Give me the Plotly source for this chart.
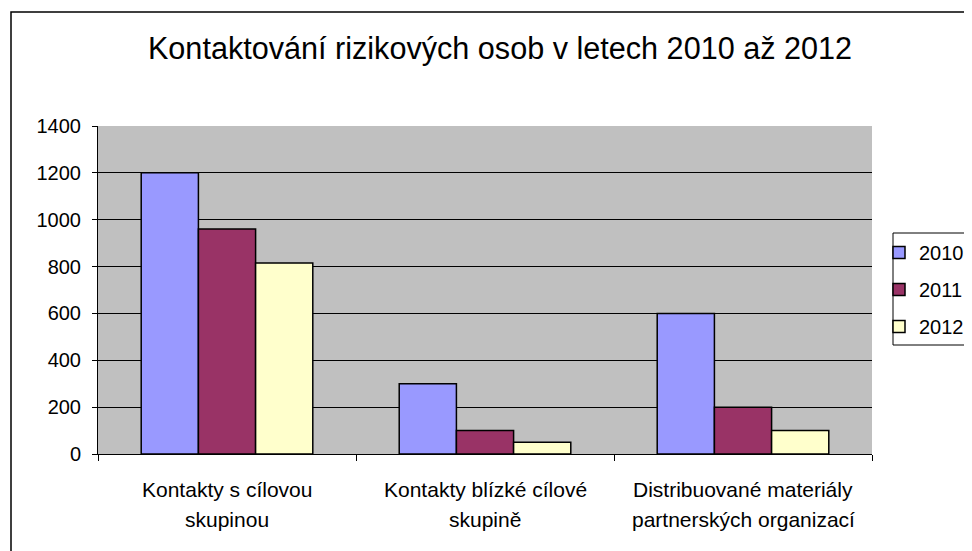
import plotly.graph_objects as go

categories = ["Kontakty s cílovou skupinou",
              "Kontakty blízké cílové skupině",
              "Distribuované materiály partnerských organizací"]
label_line1 = ["Kontakty s cílovou", "Kontakty blízké cílové", "Distribuované materiály"]
label_line2 = ["skupinou", "skupině", "partnerských organizací"]
years = ["2010", "2011", "2012"]
values_2010 = [1200, 300, 600]
values_2011 = [960, 100, 200]
values_2012 = [815, 50, 100]
series = [values_2010, values_2011, values_2012]
colors = ["#9999FF", "#993366", "#FFFFCC"]
y_ticks = [0, 200, 400, 600, 800, 1000, 1200, 1400]

FONT = "Liberation Sans, Arial, sans-serif"

fig = go.Figure()
for i, (yr, vals) in enumerate(zip(years, series)):
    fig.add_trace(go.Bar(
        name=yr, x=categories, y=vals, legendgroup=yr,
        marker=dict(color=colors[i], line=dict(color="black", width=1.5)),
    ))

# page has an 8px body margin, so the figure is 8px smaller
W, H = 964, 543
L, R, T, B = 90, 100, 118, 97
PW, PH = W - L - R, H - T - B

fig.update_layout(
    width=W, height=H,
    margin=dict(l=L, r=R, t=T, b=B, autoexpand=False),
    paper_bgcolor="white",
    plot_bgcolor="#C0C0C0",
    barmode="group",
    bargap=0.335,
    bargroupgap=0,
    font=dict(family=FONT, size=20, color="black"),
    title=dict(text="Kontaktování rizikových osob v letech 2010 až 2012",
               x=492 / W, xanchor="center", y=1 - 40 / H, yanchor="middle",
               font=dict(family=FONT, size=30.6, color="black")),
    showlegend=True,
    legend=dict(x=(871 - L) / PW, xanchor="left", y=(H - B - 225) / PH, yanchor="top",
                borderwidth=0, bgcolor="rgba(0,0,0,0)",
                font=dict(family=FONT, size=20),
                tracegroupgap=8, itemwidth=30),
)
fig.update_xaxes(
    type="category", tickson="boundaries", ticks="outside", ticklen=6,
    tickcolor="black", showline=True, linecolor="black", linewidth=1,
    showticklabels=False, showgrid=False, mirror=False,
)
fig.update_yaxes(
    range=[0, 1400], tickvals=y_ticks, ticks="outside", ticklen=5,
    tickcolor="black", showline=True, linecolor="black", linewidth=1,
    showgrid=True, gridcolor="black", gridwidth=1, zeroline=False,
    tickfont=dict(family=FONT, size=20), ticklabelstandoff=7,
)
# category labels (two lines each)
for c, l1, l2 in zip(categories, label_line1, label_line2):
    fig.add_annotation(x=c, xref="x", y=0, yref="paper", text=l1, showarrow=False,
                       yanchor="middle", yshift=-35, font=dict(family=FONT, size=21))
    fig.add_annotation(x=c, xref="x", y=0, yref="paper", text=l2, showarrow=False,
                       yanchor="middle", yshift=-65, font=dict(family=FONT, size=21))
# outer chart border
fig.add_shape(type="rect", xref="paper", yref="paper",
              x0=(3 - L) / PW, x1=(W + 10 - L) / PW,
              y0=-(B + 10) / PH, y1=1 + (T - 4) / PH,
              line=dict(color="black", width=1.5), layer="below")
# legend frame (extends past the right edge as in the reference)
fig.add_shape(type="rect", xref="paper", yref="paper",
              x0=(885 - L) / PW, x1=(W + 10 - L) / PW,
              y0=(H - B - 337) / PH, y1=(H - B - 225) / PH,
              line=dict(color="black", width=1), fillcolor="white", layer="below")

fig.write_html("out.html")
